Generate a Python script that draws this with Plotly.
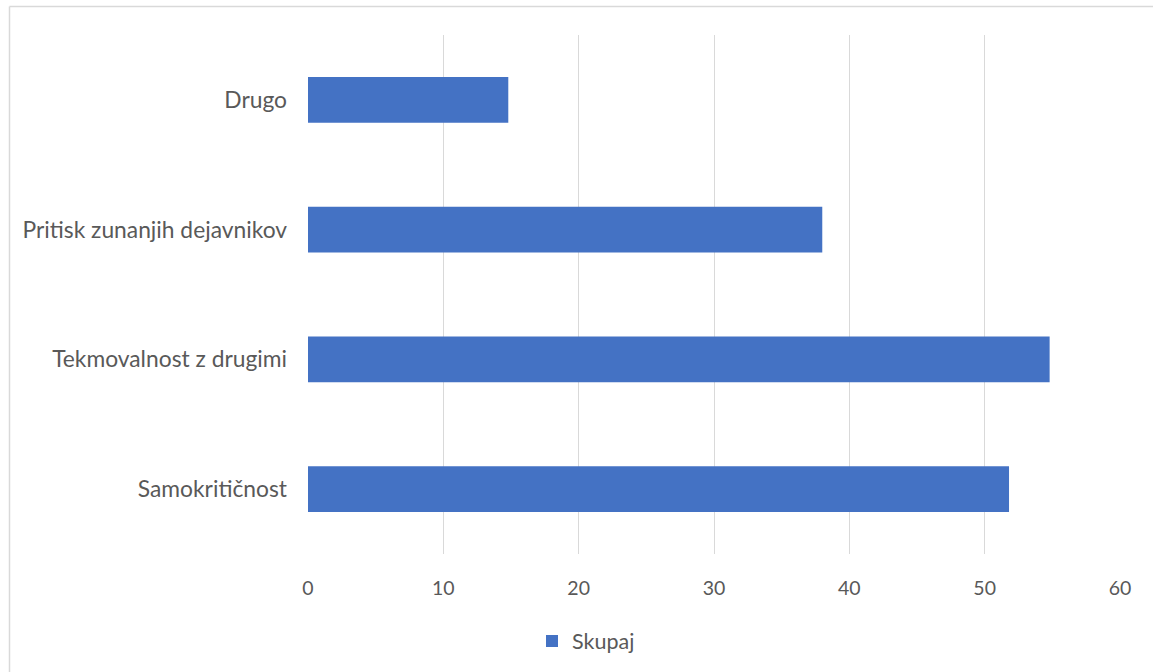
import plotly.graph_objects as go

categories = ["Samokritičnost", "Tekmovalnost z drugimi", "Pritisk zunanjih dejavnikov", "Drugo"]
values = [51.8, 54.8, 38.0, 14.8]
series_name = "Skupaj"
x_ticks = [0, 10, 20, 30, 40, 50, 60]

FONT = "Lato"
GRAY = "#595959"

fig = go.Figure()
fig.add_trace(go.Bar(
    y=categories, x=values, orientation="h", name=series_name,
    marker=dict(color="#4472C4", line=dict(width=0)),
    width=0.354, showlegend=True,
))

W, H = 1153, 672
L, R, T, B = 308, 33, 35, 117
pw, ph = W - L - R, H - T - B

def px(x):
    return (x - L) / pw

def py(y):
    return (H - B - y) / ph

fig.update_layout(
    width=W, height=H,
    margin=dict(l=L, r=R, t=T, b=B),
    paper_bgcolor="white", plot_bgcolor="white",
    font=dict(family=FONT, size=20, color=GRAY),
    xaxis=dict(range=[0, 60], tickvals=x_ticks, showgrid=True, gridcolor="#D9D9D9",
               gridwidth=1, zeroline=False, showline=False, ticks="",
               tickfont=dict(size=19.5, color=GRAY), ticklabelstandoff=20),
    yaxis=dict(showgrid=False, zeroline=False, showline=False, ticks="",
               tickfont=dict(size=22.8, color=GRAY), ticklabelstandoff=20),
    legend=dict(orientation="h", x=px(586), xanchor="center", y=py(641), yanchor="middle",
                font=dict(size=21.5, color=GRAY), itemwidth=30),
    shapes=[
        dict(type="line", xref="paper", yref="paper", x0=px(9.5), x1=px(1160),
             y0=py(6.5), y1=py(6.5), line=dict(color="#D9D9D9", width=1.5)),
        dict(type="line", xref="paper", yref="paper", x0=px(9.5), x1=px(9.5),
             y0=py(6.5), y1=py(680), line=dict(color="#D9D9D9", width=1.5)),
    ],
)

fig.write_html("out.html", config={"displayModeBar": False},
               post_script="document.body.style.margin='0';document.body.style.overflow='hidden';")
